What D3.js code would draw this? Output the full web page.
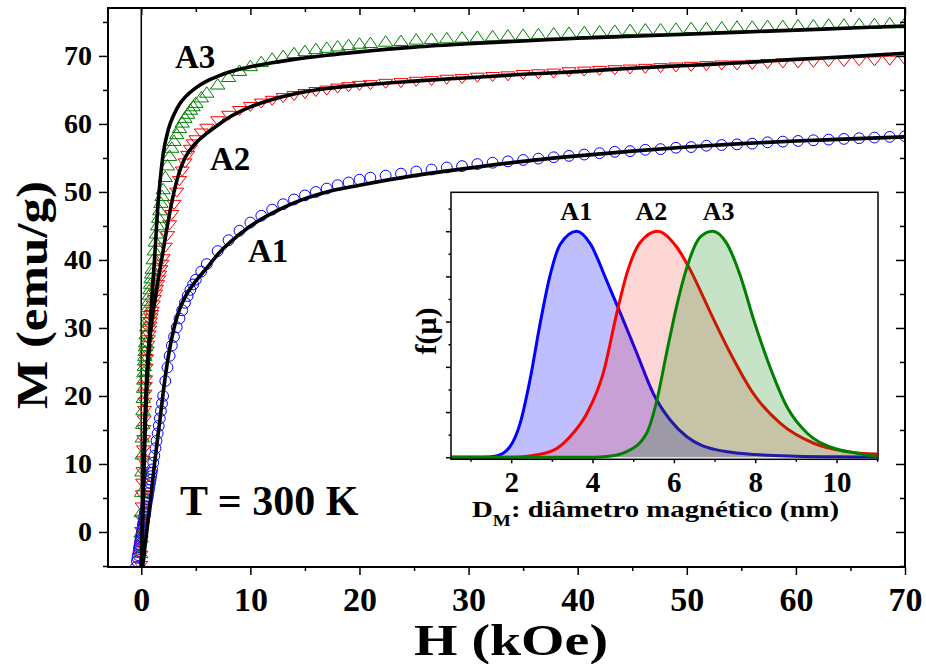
<!DOCTYPE html>
<html>
<head>
<meta charset="utf-8">
<script src="https://cdn.jsdelivr.net/npm/d3@7"></script>
<style>
  body { margin: 0; background: #fff; }
  svg text { font-family: "Liberation Serif", "Times New Roman", serif; font-weight: bold; fill: #000; }
</style>
</head>
<body>
<svg id="chart" width="926" height="664"></svg>
<script>
// Applied field H (kOe), shared by the three measured curves
const field = [
  -0.7, -0.6, -0.5, -0.4, -0.35, -0.3, -0.25, -0.2,
  -0.175, -0.15, -0.125, -0.1, -0.075, -0.05, -0.025, 0, 0.025, 0.05, 0.075, 0.1, 0.125, 0.15,
  0.175, 0.2, 0.225, 0.25, 0.275, 0.3, 0.325, 0.35, 0.375, 0.4,
  0.45, 0.5, 0.55, 0.6, 0.65, 0.7, 0.75, 0.8, 0.85, 0.9, 0.95, 1.0,
  1.1, 1.2, 1.3, 1.4, 1.5, 1.6, 1.7, 1.8, 1.9, 2.0,
  2.2, 2.4, 2.6, 2.8, 3.0,
  3.25, 3.5, 3.75, 4.0, 4.25, 4.5, 4.75, 5,
  5.5, 6,
  7, 8, 9, 10, 11, 12, 13, 14, 15, 16, 17, 18, 19, 20,
  21, 22.4, 23.8, 25.2, 26.6, 28, 29.4, 30.8, 32.2, 33.6, 35, 36.4, 37.8, 39.2, 40.6, 42,
  43.4, 44.8, 46.2, 47.6, 49, 50.4, 51.8, 53.2, 54.6, 56, 57.4, 58.8, 60.2, 61.6, 63, 64.4,
  65.8, 67.2, 68.6, 70
];

// M (emu/g) measured, null = off the bottom of the frame
const magA1 = [
  -7, -6.1, -5.2, -4.3, -3.8, -3.4, -2.9, -2.5,
  -2.2, -2.0, -1.8, -1.5, -1.3, -1.1, -0.8, -0.6, -0.3, -0.1, 0.2, 0.4, 0.6, 0.9,
  1.1, 1.4, 1.6, 1.8, 2.1, 2.3, 2.6, 2.8, 3.0, 3.3,
  3.8, 4.3, 4.8, 5.2, 5.7, 6.2, 6.7, 7.2, 7.7, 8.2, 8.7, 9.2,
  10.2, 11.2, 12.3, 13.4, 14.5, 15.6, 16.7, 17.8, 18.9, 20.0,
  22.2, 24.2, 25.9, 27.4, 28.7,
  30.1, 31.4, 32.6, 33.7, 34.7, 35.6, 36.4, 37.1,
  38.3, 39.4,
  41.3, 42.9, 44.3, 45.5, 46.5, 47.4, 48.2, 48.9, 49.5, 50.0, 50.5, 51.0, 51.4, 51.8,
  52.1, 52.4, 52.7, 53.0, 53.3, 53.6, 53.8, 54.1, 54.3, 54.5, 54.7, 54.9, 55.1, 55.3, 55.5, 55.7,
  55.9, 56.0, 56.2, 56.3, 56.5, 56.6, 56.8, 56.9, 57.0, 57.1, 57.3, 57.4, 57.5, 57.6, 57.7, 57.8,
  57.9, 58.0, 58.1, 58.2
];
const magA2 = [
  null, null, null, null, null, null, null, null,
  null, null, null, -8, -6.5, -5, -3.5, -2, 0, 1.8, 3.6, 5.4, 7.1, 8.8,
  10.4, 12, 13.5, 15, 16.4, 17.8, 19, 20.2, 21.3, 22.3,
  24, 25.4, 26.5, 27.4, 28.2, 28.9, 29.6, 30.2, 30.8, 31.4, 31.9, 32.4,
  33.3, 34.1, 34.9, 35.6, 36.3, 37.0, 37.7, 38.5, 39.3, 40.1,
  41.8, 43.5, 45.1, 46.6, 48.1,
  49.9, 51.6, 53.0, 54.2, 55.3, 56.2, 57.0, 57.6,
  58.6, 59.3,
  60.4, 61.2, 61.9, 62.5, 63.0, 63.4, 63.8, 64.1, 64.4, 64.7, 64.9, 65.2, 65.4, 65.6,
  65.7, 65.9, 66.0, 66.2, 66.3, 66.5, 66.6, 66.8, 66.9, 67.0, 67.2, 67.3, 67.4, 67.6, 67.7, 67.8,
  67.9, 68.0, 68.1, 68.2, 68.3, 68.4, 68.5, 68.6, 68.6, 68.7, 68.8, 68.9, 68.9, 69.0, 69.1, 69.1,
  69.2, 69.2, 69.3, 69.3
];
const magA3 = [
  null, null, null, null, null, null, null, null,
  null, null, null, -9, -6, -3, 0, 3, 6, 9, 11.5, 14, 16, 18,
  19.8, 21.3, 22.5, 23.6, 24.5, 25.3, 26, 26.7, 27.4, 28,
  29.2, 30.3, 31.3, 32.3, 33.2, 34.1, 35.0, 35.8, 36.6, 37.4, 38.1, 38.8,
  40.2, 41.5, 42.8, 44.0, 45.2, 46.3, 47.4, 48.5, 49.5, 50.5,
  52.3, 54.0, 55.4, 56.6, 57.6,
  58.6, 59.5, 60.3, 61.0, 61.6, 62.2, 62.7, 63.2,
  64.0, 64.7,
  65.9, 67.0, 67.9, 68.6, 69.2, 69.7, 70.1, 70.5, 70.8, 71.1, 71.3, 71.5, 71.7, 71.9,
  72.0, 72.2, 72.3, 72.5, 72.6, 72.7, 72.8, 72.9, 73.0, 73.1, 73.2, 73.3, 73.4, 73.5, 73.6, 73.7,
  73.8, 73.9, 74.0, 74.0, 74.1, 74.2, 74.2, 74.3, 74.4, 74.4, 74.5, 74.5, 74.6, 74.6, 74.7, 74.7,
  74.8, 74.8, 74.9, 74.9
];

// fitted curves (black)
const fitField = [-0.1, 0, 0.1, 0.2, 0.3, 0.4, 0.5, 0.6, 0.8, 1.0, 1.25, 1.5, 1.75, 2.0, 2.5, 3, 3.5, 4, 5, 6,
  7, 8, 10, 12, 14, 17, 20, 25, 30, 35, 40, 45, 50, 55, 60, 65, 70];
const fitA1 = [-8.2, -6.8, -5.4, -4.1, -2.7, -1.3, 0, 1.4, 4.2, 7.0, 10.5, 13.8, 17.0, 20.4, 26.0, 30.0, 32.7, 34.5, 36.9, 38.8,
  40.8, 42.4, 45.0, 46.9, 48.4, 50.0, 51.0, 52.4, 53.5, 54.5, 55.3, 56.0, 56.6, 57.1, 57.5, 57.8, 58.1];
const fitA2 = [-9, -5.5, 0, 6, 12, 17, 21, 24, 28.5, 31.5, 34.0, 36.6, 39.0, 41.3, 46.0, 50.0, 53.0, 55.0, 57.2, 58.6,
  59.8, 60.9, 62.5, 63.6, 64.4, 65.2, 65.7, 66.3, 66.8, 67.3, 67.7, 68.2, 68.6, 69.0, 69.5, 69.9, 70.4];
const fitA3 = [-12, -5.5, 2, 9, 15, 19.5, 23, 25.5, 30, 35, 41, 47.5, 52, 55.5, 59.3, 61.4, 62.9, 63.9, 65.3, 66.3,
  67.0, 67.6, 68.4, 69.0, 69.5, 70.1, 70.6, 71.3, 71.8, 72.2, 72.6, 72.9, 73.2, 73.5, 73.8, 74.1, 74.4];

// inset: size distributions f(mu) vs magnetic diameter (nm), peak-normalised
const diamA1 = [0.5, 1.3, 1.64, 1.97, 2.22, 2.46, 2.71, 2.95, 3.2, 3.61, 3.94, 4.35, 4.68, 5.09, 5.5, 5.91, 6.32, 6.67, 7.0, 7.5, 8.0, 9.0, 10.0, 11.0];
const distA1 = [0, 0, 0.006, 0.047, 0.15, 0.34, 0.59, 0.80, 0.94, 1.0, 0.946, 0.78, 0.64, 0.46, 0.28, 0.165, 0.091, 0.054, 0.035, 0.02, 0.012, 0.005, 0.002, 0.001];
const diamA2 = [0.5, 2.0, 2.46, 3.03, 3.44, 3.85, 4.26, 4.6, 4.84, 5.17, 5.6, 6.07, 6.4, 6.9, 7.39, 7.96, 8.62, 9.44, 10.26, 11.0];
const distA2 = [0, 0, 0.006, 0.03, 0.09, 0.19, 0.37, 0.64, 0.81, 0.95, 1.0, 0.93, 0.83, 0.64, 0.46, 0.28, 0.15, 0.062, 0.025, 0.014];
const diamA3 = [0.5, 4.0, 4.35, 4.84, 5.33, 5.58, 5.82, 6.07, 6.32, 6.65, 6.95, 7.3, 7.64, 7.96, 8.3, 8.79, 9.28, 9.94, 10.5, 11.0];
const distA3 = [0, 0, 0.003, 0.025, 0.106, 0.25, 0.46, 0.67, 0.84, 0.975, 1.0, 0.946, 0.80, 0.61, 0.43, 0.22, 0.106, 0.04, 0.018, 0.004];

const samples = ["A1", "A2", "A3"];
const colors = {A1: "#0000ff", A2: "#ff0000", A3: "#008000"};
const serif = '"Liberation Serif", "Times New Roman", serif';

const svg = d3.select("#chart");

// ---------- main panel ----------
const x = d3.scaleLinear().domain([-3.05, 70]).range([108, 905]);
const y = d3.scaleLinear().domain([-5.15, 77.05]).range([567, 8]);

svg.append("clipPath").attr("id", "plotClip")
  .append("rect").attr("x", 108).attr("y", 8).attr("width", 797).attr("height", 559);

// line at H = 0
svg.append("line")
  .attr("x1", x(0)).attr("x2", x(0)).attr("y1", 8).attr("y2", 567)
  .attr("stroke", "#000").attr("stroke-width", 1.5);

const plot = svg.append("g").attr("clip-path", "url(#plotClip)");

const markerPath = {
  A1: d3.symbol(d3.symbolCircle, Math.PI * 5.4 * 5.4)(),
  A2: "M-7,-4.5L7,-4.5L0,4.5Z",
  A3: "M0,-5.2L7.2,5.2L-7.2,5.2Z"
};
const measured = {A1: magA1, A2: magA2, A3: magA3};

samples.forEach(s => {
  const pts = field.map((h, i) => [h, measured[s][i]]).filter(d => d[1] !== null);
  plot.append("g").selectAll("path").data(pts).join("path")
    .attr("transform", d => `translate(${x(d[0])},${y(d[1])})`)
    .attr("d", markerPath[s])
    .attr("fill", "none")
    .attr("stroke", colors[s])
    .attr("stroke-width", 1);
});

const fitLine = d3.line().x(d => x(d[0])).y(d => y(d[1])).curve(d3.curveMonotoneX);
[fitA1, fitA2, fitA3].forEach(f => {
  plot.append("path")
    .datum(fitField.map((h, i) => [h, f[i]]))
    .attr("d", fitLine)
    .attr("fill", "none")
    .attr("stroke", "#000")
    .attr("stroke-width", 3.6);
});

// axes
const xMajor = d3.range(0, 71, 10), xMinor = d3.range(5, 70, 10);
const yMajor = d3.range(0, 71, 10), yMinor = d3.range(-5, 77, 10);

function styleAxis(g) {
  g.select(".domain").remove();
  g.attr("font-family", serif);
  g.selectAll(".tick line").attr("stroke", "#000").attr("stroke-width", 1.5);
  g.selectAll(".tick text").attr("fill", "#000").style("font-family", serif).style("font-weight", "bold");
}

svg.append("g").attr("transform", "translate(0,567)")
  .call(d3.axisBottom(x).tickValues(xMajor).tickSize(8).tickPadding(12))
  .call(styleAxis).selectAll("text").style("font-size", "34px");
svg.append("g").attr("transform", "translate(0,567)")
  .call(d3.axisBottom(x).tickValues(xMinor).tickSize(4).tickFormat(""))
  .call(styleAxis);
svg.append("g").attr("transform", "translate(0,8)")
  .call(d3.axisBottom(x).tickValues(xMajor).tickSize(7).tickFormat(""))
  .call(styleAxis);
svg.append("g").attr("transform", "translate(0,8)")
  .call(d3.axisBottom(x).tickValues(xMinor).tickSize(4).tickFormat(""))
  .call(styleAxis);

svg.append("g").attr("transform", "translate(108,0)")
  .call(d3.axisLeft(y).tickValues(yMajor).tickSize(9).tickPadding(7))
  .call(styleAxis).selectAll("text").style("font-size", "28px");
svg.append("g").attr("transform", "translate(108,0)")
  .call(d3.axisLeft(y).tickValues(yMinor).tickSize(5).tickFormat(""))
  .call(styleAxis);
svg.append("g").attr("transform", "translate(905,0)")
  .call(d3.axisLeft(y).tickValues(yMajor).tickSize(9).tickFormat(""))
  .call(styleAxis);
svg.append("g").attr("transform", "translate(905,0)")
  .call(d3.axisLeft(y).tickValues(yMinor).tickSize(5).tickFormat(""))
  .call(styleAxis);

svg.append("rect")
  .attr("x", 108).attr("y", 8).attr("width", 797).attr("height", 559)
  .attr("fill", "none").attr("stroke", "#000").attr("stroke-width", 2);

// labels on the main panel
svg.append("text").attr("x", 175).attr("y", 68).style("font-size", "33px").text("A3");
svg.append("text").attr("x", 210).attr("y", 170).style("font-size", "33px").text("A2");
svg.append("text").attr("x", 248).attr("y", 262).style("font-size", "33px").text("A1");
svg.append("text").attr("x", 180).attr("y", 515).style("font-size", "42px").text("T = 300 K");

svg.append("text").attr("x", 511).attr("y", 655).attr("text-anchor", "middle")
  .attr("textLength", 194).attr("lengthAdjust", "spacingAndGlyphs")
  .style("font-size", "44px").text("H (kOe)");
svg.append("text").attr("transform", "translate(47,295) rotate(-90)").attr("text-anchor", "middle")
  .attr("textLength", 228).attr("lengthAdjust", "spacingAndGlyphs")
  .style("font-size", "44px").text("M (emu/g)");

// ---------- inset ----------
const xi = d3.scaleLinear().domain([0.52, 11.02]).range([451, 878]);
const yi = d3.scaleLinear().domain([-0.009, 1.172]).range([459.3, 192.3]);

svg.append("rect").attr("x", 451).attr("y", 192.3).attr("width", 427).attr("height", 267)
  .attr("fill", "#fff");

svg.append("clipPath").attr("id", "insetClip")
  .append("rect").attr("x", 451).attr("y", 192.3).attr("width", 427).attr("height", 267);
const inset = svg.append("g").attr("clip-path", "url(#insetClip)");

const dists = [
  {s: "A1", d: diamA1, f: distA1, alpha: 0.25},
  {s: "A2", d: diamA2, f: distA2, alpha: 0.16},
  {s: "A3", d: diamA3, f: distA3, alpha: 0.22}
];
const area = d3.area().x(d => xi(d[0])).y0(yi(0)).y1(d => yi(d[1])).curve(d3.curveMonotoneX);
const line = d3.line().x(d => xi(d[0])).y(d => yi(d[1])).curve(d3.curveMonotoneX);

dists.forEach(c => {
  const pts = c.d.map((v, i) => [v, c.f[i]]);
  inset.append("path").datum(pts).attr("d", area)
    .attr("fill", colors[c.s]).attr("fill-opacity", c.alpha);
  inset.append("path").datum(pts).attr("d", line)
    .attr("fill", "none").attr("stroke", colors[c.s]).attr("stroke-width", 3);
});

svg.append("g").attr("transform", "translate(0,459.3)")
  .call(d3.axisBottom(xi).tickValues([2, 4, 6, 8, 10]).tickSize(4).tickPadding(8))
  .call(styleAxis).selectAll("text").style("font-size", "29px");
svg.append("g").attr("transform", "translate(0,459.3)")
  .call(d3.axisBottom(xi).tickValues([1, 3, 5, 7, 9, 11]).tickSize(2.5).tickFormat(""))
  .call(styleAxis);
svg.append("g").attr("transform", "translate(451,0)")
  .call(d3.axisLeft(yi).tickValues([0, 0.2, 0.4, 0.6, 0.8, 1.0]).tickSize(5).tickFormat(""))
  .call(styleAxis);
svg.append("g").attr("transform", "translate(451,0)")
  .call(d3.axisLeft(yi).tickValues([0.1, 0.3, 0.5, 0.7, 0.9, 1.1]).tickSize(2.5).tickFormat(""))
  .call(styleAxis);

svg.append("rect").attr("x", 451).attr("y", 192.3).attr("width", 427).attr("height", 267)
  .attr("fill", "none").attr("stroke", "#000").attr("stroke-width", 1.5);

const peakLabelX = {A1: 3.6, A2: 5.45, A3: 7.1};
samples.forEach(s => {
  svg.append("text").attr("x", xi(peakLabelX[s])).attr("y", 220).attr("text-anchor", "middle")
    .style("font-size", "26px").text(s);
});

const xlab = svg.append("text").attr("transform", "translate(472,517) scale(1.2,1)").style("font-size", "24px");
xlab.append("tspan").text("D");
xlab.append("tspan").attr("dy", 9).style("font-size", "16px").text("M");
xlab.append("tspan").attr("dy", -9).text(": diâmetro magnético (nm)");

svg.append("text").attr("transform", "translate(436,331) rotate(-90)").attr("text-anchor", "middle")
  .style("font-size", "30px").text("f(μ)");
</script>
</body>
</html>
